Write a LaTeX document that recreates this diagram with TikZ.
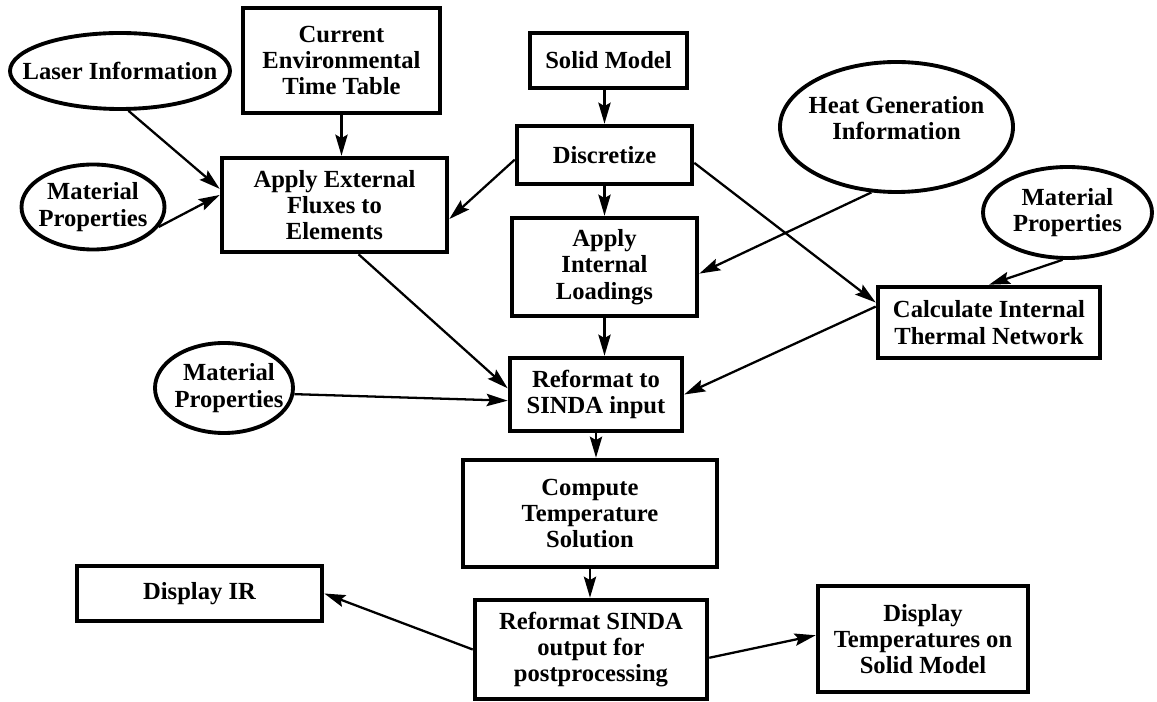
\documentclass[tikz,border=0pt]{standalone}
\usepackage{fontspec}
\setmainfont{Liberation Serif}
\usetikzlibrary{arrows.meta,shapes.geometric}
\tikzset{
	procbox/.style={draw, rectangle, line width=2.6pt, align=center, inner sep=2pt},
	inbubble/.style={draw, ellipse, line width=2.2pt, inner sep=0pt},
	flow/.style={line width=1.3pt, -{Stealth[length=12pt,width=7pt,inset=2pt]}},
}

\begin{document}
\begin{tikzpicture}[font=\fontsize{14}{15}\selectfont\bfseries]
		%%%%% START %%%%%
		\useasboundingbox (0,0) rectangle (23.14,-14.04);
		
		% inputs
		\node[inbubble, minimum width=4.4cm, minimum height=1.52cm, label={center:Laser Information}] (laser) at (2.40,-1.42) {};
		\node[inbubble, minimum width=2.86cm, minimum height=1.70cm, label={[align=center]center:Material\\Properties}] (matleft) at (1.86,-4.14) {};
		\node[inbubble, minimum width=4.66cm, minimum height=2.60cm, label={[align=center, yshift=0.18cm]center:Heat Generation\\Information}] (heatgen) at (17.93,-2.54) {};
		\node[inbubble, minimum width=3.38cm, minimum height=1.82cm, label={[align=center]center:Material\\Properties}] (matright) at (21.35,-4.25) {};
		\node[inbubble, minimum width=2.76cm, minimum height=1.80cm, label={[align=center, xshift=0.1cm]center:Material\\Properties}] (matmid) at (4.48,-7.76) {};
		
		% steps
		\node[procbox, minimum width=3.94cm, minimum height=2.10cm] (envtable) at (6.83,-1.21) {Current\\Environmental\\Time Table};
		\node[procbox, minimum width=4.50cm, minimum height=1.88cm] (extflux) at (6.69,-4.10) {Apply External\\Fluxes to\\Elements};
		\node[procbox, minimum width=3.14cm, minimum height=1.10cm] (solid) at (12.17,-1.21) {Solid Model};
		\node[procbox, minimum width=3.50cm, minimum height=1.16cm] (discr) at (12.09,-3.10) {Discretize};
		\node[procbox, minimum width=3.70cm, minimum height=1.96cm] (intload) at (12.09,-5.34) {Apply\\Internal\\Loadings};
		\node[procbox, minimum width=4.44cm, minimum height=1.42cm] (network) at (19.78,-6.45) {Calculate Internal\\Thermal Network};
		\node[procbox, minimum width=3.44cm, minimum height=1.46cm] (sindain) at (11.92,-7.89) {Reformat to\\SINDA input};
		\node[procbox, minimum width=5.08cm, minimum height=2.14cm] (solve) at (11.80,-10.27) {Compute\\Temperature\\Solution};
		\node[procbox, minimum width=4.90cm, minimum height=1.10cm] (dispir) at (3.99,-11.87) {Display IR};
		\node[procbox, minimum width=4.64cm, minimum height=1.98cm] (sindaout) at (11.82,-12.99) {Reformat SINDA\\output for\\postprocessing};
		\node[procbox, minimum width=4.20cm, minimum height=2.12cm] (disptemp) at (18.46,-12.78) {Display\\Temperatures on\\Solid Model};
		
		% connectors
		\draw[flow] (laser.-78) -- (extflux.172);
		\draw[flow] (matleft.-17) -- (extflux.175);
		\draw[flow] (envtable.south) -- (envtable.south |- extflux.north);
		\draw[flow] (discr.north |- solid.south) -- (discr.north);
		\draw[flow] (discr.183) -- (extflux.-7);
		\draw[flow] (discr.south) -- (discr.south |- intload.north);
		\draw[flow] (discr.-5) -- (network.170);
		\draw[flow] (heatgen.-111) -- (intload.-4);
		\draw[flow] (matright.-96) -- (network.north);
		\draw[flow] (extflux.-64) -- (sindain.176);
		\draw[flow] (matmid.-5) -- (sindain.184);
		\draw[flow] (intload.south) -- (intload.south |- sindain.north);
		\draw[flow] (network.172) -- (sindain.east);
		\draw[flow] (sindain.south) -- (sindain.south |- solve.north);
		\draw[flow] (solve.south) -- (solve.south |- sindaout.north);
		\draw[flow] (sindaout.west) -- (dispir.east);
		\draw[flow] (sindaout.-4) -- (disptemp.178);
		
		%%%%% END %%%%%
\end{tikzpicture}
\end{document}
